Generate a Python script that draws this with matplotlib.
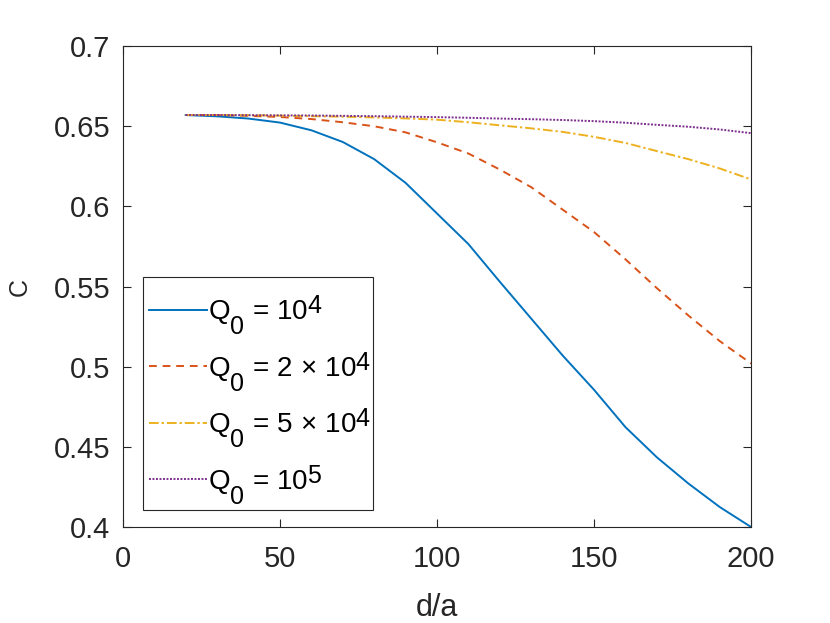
import matplotlib
matplotlib.use('Agg')
import matplotlib.pyplot as plt
import matplotlib._mathtext as mathtext_internal
from matplotlib.patches import Rectangle
from matplotlib.ticker import FormatStrFormatter

plt.rcParams['font.family'] = ['Liberation Sans', 'DejaVu Sans']
plt.rcParams['mathtext.fontset'] = 'custom'
plt.rcParams['mathtext.rm'] = 'Liberation Sans'
plt.rcParams['mathtext.it'] = 'Liberation Sans'
plt.rcParams['mathtext.default'] = 'regular'
# MATLAB TeX 첨자: 거의 본문 크기, 아래첨자는 깊게
mathtext_internal.SHRINK_FACTOR = 0.9
mathtext_internal.FontConstantsBase.sub1 = 1.0
mathtext_internal.FontConstantsBase.sup1 = 0.4

# 데이터
d_a = [20, 30, 40, 50, 60, 70, 80, 90, 100, 110, 120, 130, 140, 150, 160, 170, 180, 190, 200]
c_q1e4 = [0.657, 0.6562, 0.6548, 0.6523, 0.6475, 0.6402, 0.6295, 0.6147, 0.5956, 0.5765, 0.553,
          0.530, 0.507, 0.4856, 0.4623, 0.4435, 0.4272, 0.4125, 0.400]
c_q2e4 = [0.657, 0.657, 0.6565, 0.6558, 0.6545, 0.6525, 0.650, 0.6462, 0.640, 0.633, 0.623,
          0.612, 0.598, 0.584, 0.567, 0.549, 0.532, 0.516, 0.502]
c_q5e4 = [0.657, 0.657, 0.6569, 0.6566, 0.6563, 0.656, 0.6555, 0.6549, 0.6541, 0.6525, 0.6506,
          0.6487, 0.6465, 0.6434, 0.6396, 0.6345, 0.6295, 0.6237, 0.6168]
c_q1e5 = [0.657, 0.657, 0.6569, 0.6568, 0.6567, 0.6565, 0.6563, 0.656, 0.6557, 0.6553, 0.6548,
          0.6544, 0.6539, 0.6532, 0.6522, 0.6509, 0.6497, 0.6480, 0.6457]
labels = ['Q$_0$ = 10$^4$', 'Q$_0$ = 2$\\,\\times\\,$10$^4$', 'Q$_0$ = 5$\\,\\times\\,$10$^4$',
          'Q$_0$ = 10$^5$']

fig = plt.figure(figsize=(8.3, 6.23), dpi=100)
ax = fig.add_axes([0.148, 0.154, 0.757, 0.772])

ax.plot(d_a, c_q1e4, color='#0072BD', ls='-', lw=1.4, label=labels[0])
ax.plot(d_a, c_q2e4, color='#D95319', ls=(0, (4, 3)), lw=1.4, label=labels[1])
ax.plot(d_a, c_q5e4, color='#EDB120', ls=(0, (5, 1.5, 1.2, 1.5)), lw=1.4, label=labels[2])
ax.plot(d_a, c_q1e5, color='#7E2F8E', ls=(0, (1, 0.8)), lw=1.4, label=labels[3])

ax.set_xlim(0, 200)
ax.set_ylim(0.4, 0.7)
ax.set_xticks([0, 50, 100, 150, 200])
ax.set_yticks([0.4, 0.45, 0.5, 0.55, 0.6, 0.65, 0.7])
ax.yaxis.set_major_formatter(FormatStrFormatter('%g'))
ax.tick_params(direction='in', top=True, right=True, labelsize=21, colors='#262626', length=6, width=0.8)
ax.tick_params(axis='x', pad=13)
ax.tick_params(axis='y', pad=9)
for s in ax.spines.values():
    s.set_color('#262626')
    s.set_linewidth(0.8)

ax.set_xlabel('d/a', fontsize=22, color='#262626', labelpad=14)
ax.set_ylabel('C', fontsize=18, color='#262626', labelpad=16)

# 범례 테두리는 MATLAB처럼 따로 그림
ax.add_patch(Rectangle((0.0318, 0.0353), 0.3663, 0.4847, transform=ax.transAxes, fill=True,
                       facecolor='white', edgecolor='#262626', lw=0.8, zorder=4))
leg = ax.legend(loc='upper left', bbox_to_anchor=(0.026, 0.506), fontsize=20, handlelength=2.1,
                handletextpad=0.02, borderpad=0.35, labelspacing=0.456, borderaxespad=0,
                frameon=False)
leg.set_zorder(5)

fig.savefig('out.png', dpi=100)
